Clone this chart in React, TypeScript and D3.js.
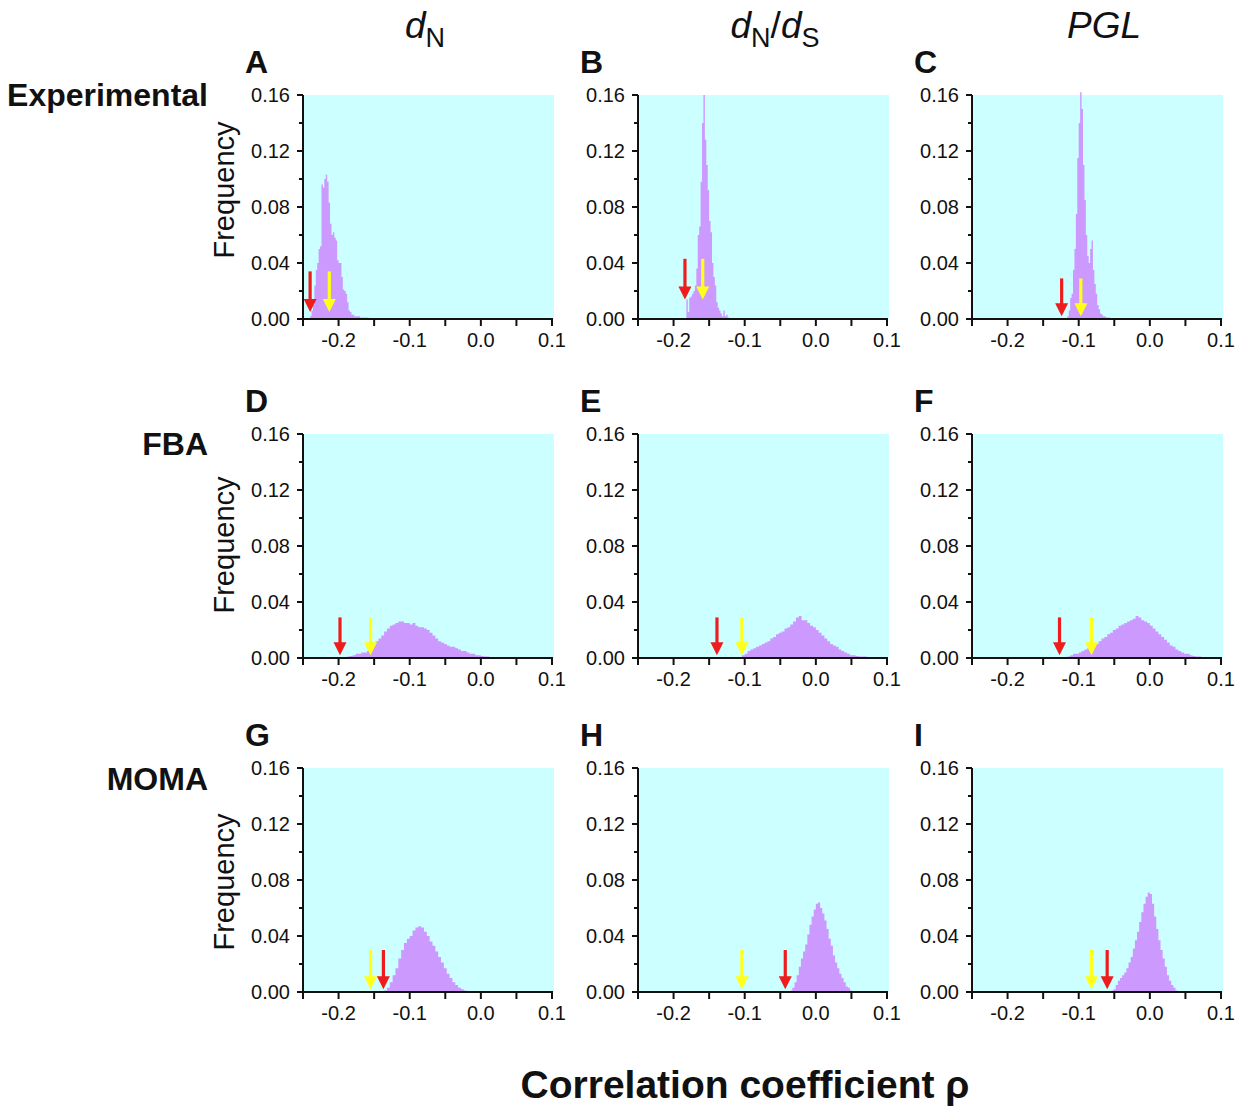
import React, { useEffect, useRef } from 'react';
import * as d3 from 'd3';

// ---- data ----
const ROW_LABELS = ['Experimental', 'FBA', 'MOMA'];
const PANEL_LETTERS = ['A', 'B', 'C', 'D', 'E', 'F', 'G', 'H', 'I'];
const X_TICKS = [-0.25, -0.2, -0.15, -0.1, -0.05, 0.0, 0.05, 0.1];
const X_TICK_LABELS = [-0.2, -0.1, 0.0, 0.1];
const Y_MAJOR = [0, 0.04, 0.08, 0.12, 0.16];
const Y_MINOR = [0.02, 0.06, 0.1, 0.14];

// left edge of first bin and bin width for each panel
const HIST_START = [-0.240, -0.184, -0.116, -0.192, -0.104, -0.116, -0.136, -0.036, -0.054];
const HIST_BIN = [0.002, 0.002, 0.002, 0.004, 0.004, 0.004, 0.004, 0.003, 0.003];

const FREQ_A = [0.002, 0.006, 0.010, 0.024, 0.035, 0.040, 0.050, 0.052, 0.096, 0.094, 0.100, 0.103, 0.098, 0.083, 0.068, 0.060, 0.062, 0.058, 0.056, 0.042, 0.040, 0.040, 0.030, 0.021, 0.020, 0.018, 0.012, 0.006, 0.005, 0.003, 0.003, 0.002, 0.002, 0.002, 0.002, 0.001, 0.001, 0.001, 0.001, 0.001, 0.001];
const FREQ_B = [0.000, 0.014, 0.005, 0.015, 0.016, 0.018, 0.020, 0.024, 0.036, 0.060, 0.066, 0.098, 0.140, 0.160, 0.128, 0.110, 0.092, 0.070, 0.062, 0.040, 0.030, 0.024, 0.012, 0.008, 0.006, 0.004, 0.002, 0.006, 0.002, 0.003, 0.001];
const FREQ_C = [0.002, 0.006, 0.015, 0.018, 0.035, 0.050, 0.075, 0.115, 0.140, 0.162, 0.150, 0.110, 0.085, 0.060, 0.045, 0.040, 0.050, 0.056, 0.035, 0.025, 0.018, 0.010, 0.007, 0.004, 0.003, 0.002, 0.002, 0.001, 0.001, 0.001];
const FREQ_D = [0.0005, 0.001, 0.0015, 0.002, 0.003, 0.003, 0.004, 0.004, 0.005, 0.007, 0.010, 0.012, 0.014, 0.016, 0.019, 0.021, 0.023, 0.024, 0.025, 0.026, 0.026, 0.025, 0.025, 0.024, 0.025, 0.023, 0.022, 0.022, 0.021, 0.020, 0.018, 0.016, 0.014, 0.012, 0.011, 0.010, 0.009, 0.008, 0.008, 0.007, 0.006, 0.005, 0.005, 0.004, 0.003, 0.003, 0.002, 0.002, 0.0015, 0.001, 0.001, 0.0007, 0.0005, 0.0003];
const FREQ_E = [0.002, 0.003, 0.005, 0.006, 0.007, 0.008, 0.009, 0.010, 0.011, 0.012, 0.014, 0.015, 0.017, 0.018, 0.019, 0.021, 0.022, 0.024, 0.026, 0.029, 0.030, 0.027, 0.027, 0.025, 0.023, 0.022, 0.020, 0.018, 0.016, 0.014, 0.012, 0.010, 0.009, 0.008, 0.006, 0.005, 0.004, 0.003, 0.002, 0.002, 0.0015, 0.001, 0.001, 0.001, 0.0005, 0.0005];
const FREQ_F = [0.001, 0.002, 0.003, 0.003, 0.004, 0.005, 0.006, 0.007, 0.008, 0.009, 0.010, 0.012, 0.014, 0.015, 0.017, 0.018, 0.020, 0.021, 0.023, 0.024, 0.025, 0.026, 0.027, 0.028, 0.030, 0.029, 0.027, 0.026, 0.025, 0.023, 0.021, 0.019, 0.017, 0.015, 0.013, 0.011, 0.009, 0.008, 0.006, 0.005, 0.004, 0.003, 0.003, 0.002, 0.0015, 0.001, 0.001, 0.0008, 0.0005, 0.0005];
const FREQ_G = [0.001, 0.003, 0.007, 0.012, 0.017, 0.024, 0.030, 0.035, 0.038, 0.040, 0.044, 0.046, 0.047, 0.046, 0.043, 0.040, 0.036, 0.033, 0.029, 0.025, 0.021, 0.017, 0.013, 0.010, 0.007, 0.005, 0.003, 0.002, 0.001, 0.0005];
const FREQ_H = [0.001, 0.003, 0.007, 0.012, 0.018, 0.024, 0.029, 0.034, 0.041, 0.048, 0.054, 0.059, 0.063, 0.064, 0.060, 0.056, 0.051, 0.045, 0.038, 0.033, 0.026, 0.021, 0.017, 0.013, 0.010, 0.007, 0.004, 0.003, 0.001, 0.0005];
const FREQ_I = [0.001, 0.002, 0.005, 0.008, 0.010, 0.012, 0.014, 0.017, 0.021, 0.025, 0.031, 0.037, 0.043, 0.050, 0.057, 0.063, 0.068, 0.071, 0.070, 0.063, 0.054, 0.045, 0.037, 0.030, 0.024, 0.018, 0.012, 0.008, 0.005, 0.003, 0.001];
const FREQS = [FREQ_A, FREQ_B, FREQ_C, FREQ_D, FREQ_E, FREQ_F, FREQ_G, FREQ_H, FREQ_I];

// observed correlations (arrows)
const RED_ARROW = [-0.240, -0.184, -0.124, -0.198, -0.139, -0.127, -0.137, -0.043, -0.060];
const YELLOW_ARROW = [-0.213, -0.159, -0.097, -0.155, -0.104, -0.082, -0.155, -0.104, -0.082];
const ARROW_TOP = [0.034, 0.043, 0.029, 0.029, 0.029, 0.029, 0.030, 0.030, 0.030];
const ARROW_TIP = [0.005, 0.014, 0.002, 0.002, 0.002, 0.002, 0.002, 0.002, 0.002];

// ---- layout ----
const W = 1237;
const H = 1106;
const COL_LEFT = [303, 638, 972];
const ROW_TOP = [95, 434, 768];
const PW = 249;
const PH = 224;
const FONT = '"Liberation Sans", Arial, Helvetica, sans-serif';
const BG = '#CCFFFF';
const BAR = '#CC99FF';
const INK = '#111';

// plain hyphen instead of unicode minus, like the original figure
const fmt1 = (v: number) => d3.format('.1f')(v).replace('\u2212', '-');
const fmt2 = (v: number) => d3.format('.2f')(v);

export default function App() {
  const svgRef = useRef<SVGSVGElement | null>(null);

  useEffect(() => {
    const svg = d3.select(svgRef.current);
    svg.selectAll('*').remove();

    svg.append('rect').attr('width', W).attr('height', H).attr('fill', '#fff');

    for (let r = 0; r < 3; r++) {
      for (let c = 0; c < 3; c++) {
        const p = r * 3 + c;
        const left = COL_LEFT[c];
        const top = ROW_TOP[r];
        const x = d3.scaleLinear().domain([-0.25, 0.1]).range([left, left + PW]);
        const y = d3.scaleLinear().domain([0, 0.16]).range([top + PH, top]);
        const g = svg.append('g');

        g.append('rect')
          .attr('x', x(-0.25))
          .attr('y', y(0.16))
          .attr('width', x(0.1) - x(-0.25) + 2)
          .attr('height', y(0) - y(0.16))
          .attr('fill', BG);

        // histogram as a stepped area
        const vals = FREQS[p];
        const pts = vals.map((v, i) => ({ e: HIST_START[p] + i * HIST_BIN[p], v }));
        pts.push({ e: HIST_START[p] + vals.length * HIST_BIN[p], v: 0 });
        const area = d3.area<{ e: number; v: number }>()
          .x(d => x(d.e))
          .y0(y(0))
          .y1(d => y(d.v))
          .curve(d3.curveStepAfter);
        g.append('path').attr('d', area(pts)).attr('fill', BAR);

        // arrows
        const drawArrow = (val: number, color: string) => {
          const ax = x(val);
          const yTop = y(ARROW_TOP[p]);
          const yTip = y(ARROW_TIP[p]);
          const headH = 13;
          g.append('line')
            .attr('x1', ax).attr('x2', ax)
            .attr('y1', yTop).attr('y2', yTip - headH + 1)
            .attr('stroke', color).attr('stroke-width', 3.2);
          g.append('path')
            .attr('d', `M${ax - 6.5},${yTip - headH} L${ax + 6.5},${yTip - headH} L${ax},${yTip} Z`)
            .attr('fill', color);
        };
        drawArrow(RED_ARROW[p], '#EE1C1C');
        drawArrow(YELLOW_ARROW[p], '#FFFF1A');

        // axes
        g.append('line')
          .attr('x1', x(-0.25) - 1).attr('x2', x(0.1) + 1)
          .attr('y1', y(0)).attr('y2', y(0))
          .attr('stroke', INK).attr('stroke-width', 2);
        g.append('line')
          .attr('x1', x(-0.25)).attr('x2', x(-0.25))
          .attr('y1', y(0.16)).attr('y2', y(0))
          .attr('stroke', INK).attr('stroke-width', 2);

        X_TICKS.forEach(t => {
          g.append('line')
            .attr('x1', x(t)).attr('x2', x(t))
            .attr('y1', y(0)).attr('y2', y(0) + 7)
            .attr('stroke', INK).attr('stroke-width', 2);
        });
        X_TICK_LABELS.forEach(t => {
          g.append('text')
            .attr('x', x(t))
            .attr('y', y(0) + 28)
            .attr('text-anchor', 'middle')
            .style('font-family', FONT)
            .style('font-size', '20px')
            .attr('fill', INK)
            .text(fmt1(t));
        });
        Y_MAJOR.forEach(t => {
          g.append('line')
            .attr('x1', x(-0.25) - 6).attr('x2', x(-0.25))
            .attr('y1', y(t)).attr('y2', y(t))
            .attr('stroke', INK).attr('stroke-width', 2);
          g.append('text')
            .attr('x', x(-0.25) - 13)
            .attr('y', y(t) + 7)
            .attr('text-anchor', 'end')
            .style('font-family', FONT)
            .style('font-size', '20px')
            .attr('fill', INK)
            .text(fmt2(t));
        });
        Y_MINOR.forEach(t => {
          g.append('line')
            .attr('x1', x(-0.25) - 4).attr('x2', x(-0.25))
            .attr('y1', y(t)).attr('y2', y(t))
            .attr('stroke', INK).attr('stroke-width', 2);
        });

        // panel letter
        svg.append('text')
          .attr('x', left - 58)
          .attr('y', top - 22)
          .style('font-family', FONT)
          .style('font-size', '32px')
          .style('font-weight', '700')
          .attr('fill', INK)
          .text(PANEL_LETTERS[p]);
      }

      // Frequency label
      const fy = [190, 545, 882][r];
      svg.append('text')
        .attr('transform', `translate(234,${fy}) rotate(-90)`)
        .attr('text-anchor', 'middle')
        .style('font-family', FONT)
        .style('font-size', '29px')
        .attr('fill', INK)
        .text('Frequency');

      // row label
      svg.append('text')
        .attr('x', 208)
        .attr('y', [106, 455, 790][r])
        .attr('text-anchor', 'end')
        .style('font-family', FONT)
        .style('font-size', '32px')
        .style('font-weight', '700')
        .attr('fill', INK)
        .text(ROW_LABELS[r]);
    }

    // column headers
    const hdr = (cx: number) => svg.append('text')
      .attr('x', cx)
      .attr('y', 38)
      .attr('text-anchor', 'middle')
      .style('font-family', FONT)
      .style('font-size', '37px')
      .attr('fill', INK);

    const h1 = hdr(425);
    h1.append('tspan').style('font-style', 'italic').text('d');
    h1.append('tspan').style('font-size', '27px').attr('dy', 9).text('N');

    const h2 = hdr(775);
    h2.append('tspan').style('font-style', 'italic').text('d');
    h2.append('tspan').style('font-size', '27px').attr('dy', 9).text('N');
    h2.append('tspan').attr('dy', -9).text('/');
    h2.append('tspan').style('font-style', 'italic').text('d');
    h2.append('tspan').style('font-size', '27px').attr('dy', 9).text('S');

    const h3 = hdr(1104);
    h3.append('tspan').style('font-style', 'italic').text('PGL');

    // bottom axis title
    svg.append('text')
      .attr('x', 745)
      .attr('y', 1098)
      .attr('text-anchor', 'middle')
      .style('font-family', FONT)
      .style('font-size', '39px')
      .style('font-weight', '700')
      .attr('fill', INK)
      .text('Correlation coefficient ρ');
  }, []);

  return (
    <svg
      ref={svgRef}
      width={W}
      height={H}
      style={{ position: 'absolute', left: 0, top: 0, display: 'block' }}
    />
  );
}
